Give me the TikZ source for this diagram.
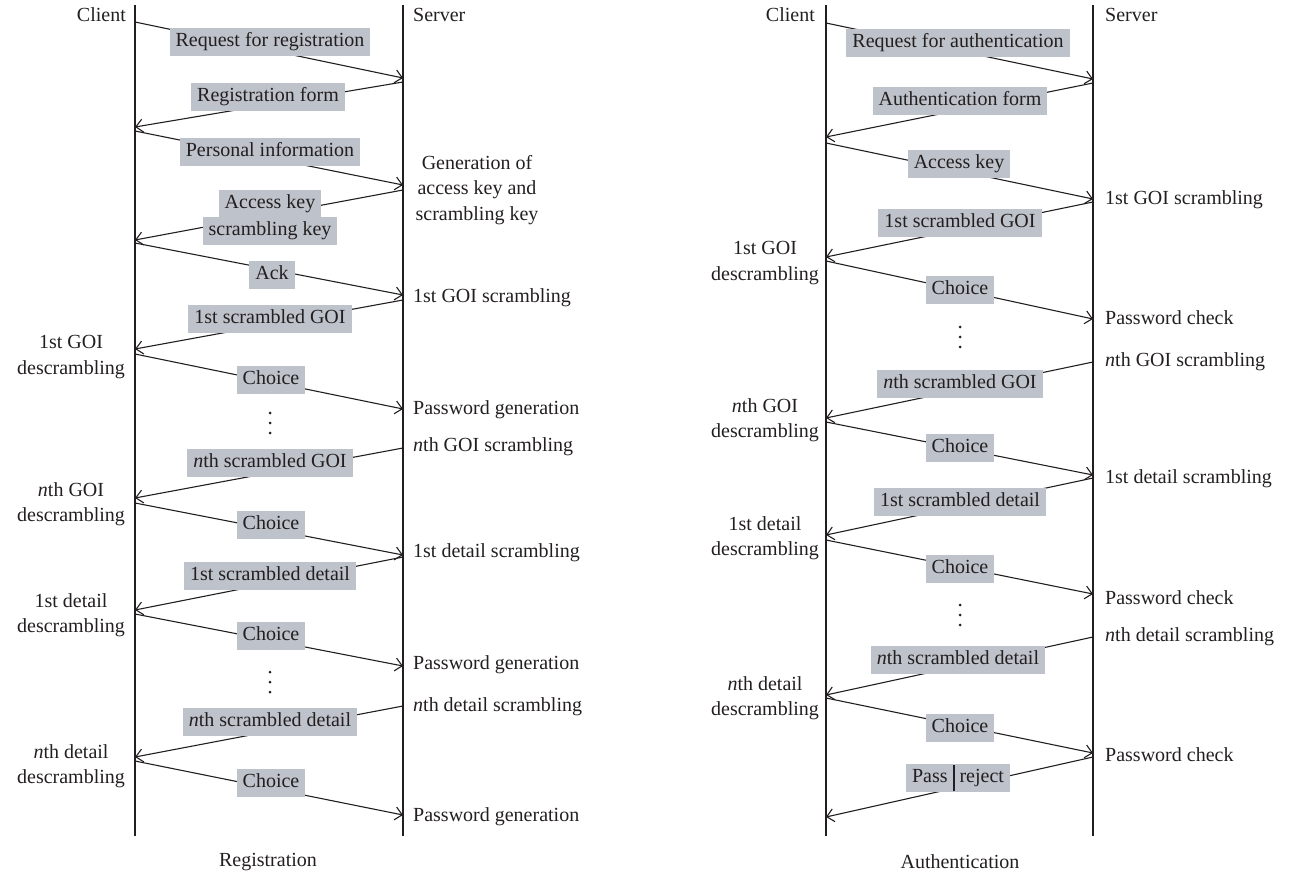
\documentclass[tikz,border=0pt]{standalone}
\usepackage{fontspec}
\setmainfont{Liberation Serif}
\usetikzlibrary{arrows.meta}
\definecolor{boxgray}{RGB}{190,194,202}
\definecolor{ink}{RGB}{35,31,32}
\newcommand\labfont{\fontsize{20}{25.5}\selectfont}
\tikzset{
  lbl/.style={fill=boxgray, text=ink, inner xsep=6pt, inner ysep=5pt, text height=14pt, text depth=4.5pt, font=\labfont},
  txt/.style={font=\labfont, text=ink, inner sep=0pt, align=center},
  life/.style={draw=ink, line width=1.3pt},
  msg/.style={draw=ink, line width=1.1pt, -{Straight Barb[length=7pt,width=13pt,line width=1.1pt]}},
}
\begin{document}
\begin{tikzpicture}[x=1pt,y=-1pt]
\useasboundingbox (0,0) rectangle (1296,877);
% lifelines
\coordinate (LCt) at (135,5);  \coordinate (LCb) at (135,836);
\coordinate (LSt) at (403,5);  \coordinate (LSb) at (403,836);
\coordinate (RCt) at (826,5);  \coordinate (RCb) at (826,836);
\coordinate (RSt) at (1093,5); \coordinate (RSb) at (1093,836);
\draw[life] (LCt) -- (LCb);
\draw[life] (LSt) -- (LSb);
\draw[life] (RCt) -- (RCb);
\draw[life] (RSt) -- (RSb);

% ---------- left: registration ----------
\coordinate (a1s) at (135,22);  \coordinate (a1e) at (403,78);
\coordinate (a2s) at (403,82);  \coordinate (a2e) at (135,127);
\coordinate (a3s) at (135,131); \coordinate (a3e) at (403,185);
\coordinate (a4s) at (403,190); \coordinate (a4e) at (135,240);
\coordinate (a5s) at (135,243); \coordinate (a5e) at (403,295);
\coordinate (a6s) at (403,300); \coordinate (a6e) at (135,349);
\coordinate (a7s) at (135,354); \coordinate (a7e) at (403,409);
\coordinate (a8s) at (403,448); \coordinate (a8e) at (135,498);
\coordinate (a9s) at (135,503); \coordinate (a9e) at (403,555);
\coordinate (a10s) at (403,557); \coordinate (a10e) at (135,610);
\coordinate (a11s) at (135,614); \coordinate (a11e) at (403,666);
\coordinate (a12s) at (403,706); \coordinate (a12e) at (135,757);
\coordinate (a13s) at (135,761); \coordinate (a13e) at (403,815);
\foreach \i in {1,...,13} {\draw[msg] (a\i s) -- (a\i e);}

\node[lbl] (la1) at (270,42) {Request for registration};
\node[lbl] (la2) at (268,97) {Registration form};
\node[lbl] (la3) at (270,152) {Personal information};
\node[lbl] (la4a) at (270,204) {Access key};
\node[lbl] (la4b) at (270,231) {scrambling key};
\node[lbl] (la5) at (272,275) {Ack};
\node[lbl] (la6) at (270,319) {1st scrambled GOI};
\node[lbl] (la7) at (271,380) {Choice};
\node[lbl] (la8) at (270,463) {\textit{n}th scrambled GOI};
\node[lbl] (la9) at (271,525) {Choice};
\node[lbl] (la10) at (270,576) {1st scrambled detail};
\node[lbl] (la11) at (271,636) {Choice};
\node[lbl] (la12) at (270,722) {\textit{n}th scrambled detail};
\node[lbl] (la13) at (271,783) {Choice};
\fill[ink] (270,413) circle (1.5pt) (270,423) circle (1.5pt) (270,433) circle (1.5pt);
\fill[ink] (270,672) circle (1.5pt) (270,682) circle (1.5pt) (270,692) circle (1.5pt);

\node[txt, anchor=east] (lclient) at (126,15) {Client};
\node[txt, anchor=west] (lserver) at (413,15) {Server};
\node[txt] (lgen) at (477,190) {Generation of\\access key and\\scrambling key};
\node[txt, anchor=west] (ls1) at (413,298) {1st GOI scrambling};
\node[txt, anchor=west] (ls2) at (413,410) {Password generation};
\node[txt, anchor=west] (ls3) at (413,447) {\textit{n}th GOI scrambling};
\node[txt, anchor=west] (ls4) at (413,553) {1st detail scrambling};
\node[txt, anchor=west] (ls5) at (413,665) {Password generation};
\node[txt, anchor=west] (ls6) at (413,707) {\textit{n}th detail scrambling};
\node[txt, anchor=west] (ls7) at (413,817) {Password generation};
\node[txt] (lc1) at (71,357) {1st GOI\\descrambling};
\node[txt] (lc2) at (71,504) {\textit{n}th GOI\\descrambling};
\node[txt] (lc3) at (71,615) {1st detail\\descrambling};
\node[txt] (lc4) at (71,766) {\textit{n}th detail\\descrambling};
\node[txt] (lcap) at (268,862) {Registration};

% ---------- right: authentication ----------
\coordinate (b1s) at (826,23);   \coordinate (b1e) at (1093,79);
\coordinate (b2s) at (1093,83);  \coordinate (b2e) at (826,137);
\coordinate (b3s) at (826,143);  \coordinate (b3e) at (1093,199);
\coordinate (b4s) at (1093,202); \coordinate (b4e) at (826,257);
\coordinate (b5s) at (826,261);  \coordinate (b5e) at (1093,319);
\coordinate (b6s) at (1093,362); \coordinate (b6e) at (826,418);
\coordinate (b7s) at (826,422);  \coordinate (b7e) at (1093,475);
\coordinate (b8s) at (1093,478); \coordinate (b8e) at (826,535);
\coordinate (b9s) at (826,540);  \coordinate (b9e) at (1093,594);
\coordinate (b10s) at (1093,637); \coordinate (b10e) at (826,695);
\coordinate (b11s) at (826,698);  \coordinate (b11e) at (1093,753);
\coordinate (b12s) at (1093,757); \coordinate (b12e) at (826,817);
\foreach \i in {1,...,12} {\draw[msg] (b\i s) -- (b\i e);}

\node[lbl] (lb1) at (958,43) {Request for authentication};
\node[lbl] (lb2) at (960,101) {Authentication form};
\node[lbl] (lb3) at (959,164) {Access key};
\node[lbl] (lb4) at (960,223) {1st scrambled GOI};
\node[lbl] (lb5) at (960,290) {Choice};
\node[lbl] (lb6) at (960,384) {\textit{n}th scrambled GOI};
\node[lbl] (lb7) at (960,448) {Choice};
\node[lbl] (lb8) at (960,502) {1st scrambled detail};
\node[lbl] (lb9) at (960,569) {Choice};
\node[lbl] (lb10) at (958,660) {\textit{n}th scrambled detail};
\node[lbl] (lb11) at (960,728) {Choice};
\node[lbl] (lb12) at (958,778) {Pass\hspace{5pt}\rule[-8.5pt]{1.9pt}{26.5pt}\hspace{5pt}reject};
\fill[ink] (960,327) circle (1.5pt) (960,337) circle (1.5pt) (960,347) circle (1.5pt);
\fill[ink] (960,605) circle (1.5pt) (960,615) circle (1.5pt) (960,625) circle (1.5pt);

\node[txt, anchor=east] (rclient) at (815,15) {Client};
\node[txt, anchor=west] (rserver) at (1105,15) {Server};
\node[txt, anchor=west] (rs1) at (1105,200) {1st GOI scrambling};
\node[txt, anchor=west] (rs2) at (1105,318) {Password check};
\node[txt, anchor=west] (rs3) at (1105,362) {\textit{n}th GOI scrambling};
\node[txt, anchor=west] (rs4) at (1105,479) {1st detail scrambling};
\node[txt, anchor=west] (rs5) at (1105,598) {Password check};
\node[txt, anchor=west] (rs6) at (1105,637) {\textit{n}th detail scrambling};
\node[txt, anchor=west] (rs7) at (1105,755) {Password check};
\node[txt] (rc1) at (765,263) {1st GOI\\descrambling};
\node[txt] (rc2) at (765,420) {\textit{n}th GOI\\descrambling};
\node[txt] (rc3) at (765,538) {1st detail\\descrambling};
\node[txt] (rc4) at (765,698) {\textit{n}th detail\\descrambling};
\node[txt] (rcap) at (960,862) {Authentication};
\end{tikzpicture}
\end{document}
